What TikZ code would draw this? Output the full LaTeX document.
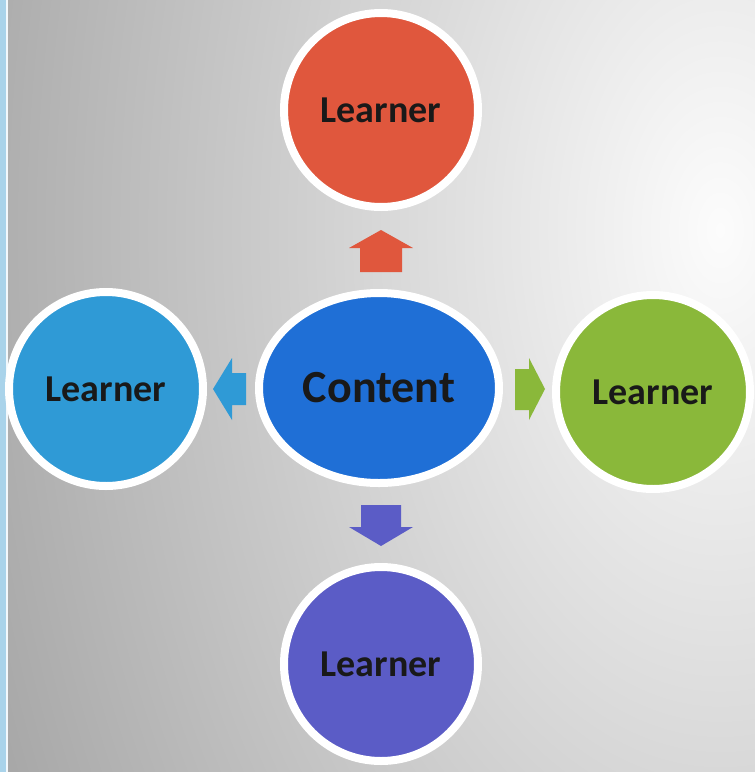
\documentclass[tikz,border=0pt]{standalone}
\usepackage{fontspec}
\setmainfont{Carlito}
\usetikzlibrary{shapes.geometric,shadows}
\definecolor{cred}{HTML}{E0573D}
\definecolor{cblueL}{HTML}{2F9AD6}
\definecolor{cblueC}{HTML}{1F6FD6}
\definecolor{cgreen}{HTML}{8AB83A}
\definecolor{cpurple}{HTML}{5B5CC6}
\definecolor{bggray}{HTML}{A6A6A6}
\definecolor{bgwhite}{HTML}{FCFCFC}
\definecolor{strip}{HTML}{A9D3EA}
\tikzset{
  learner/.style={circle, draw=white, line width=8pt, minimum size=194pt, inner sep=0pt,
    font=\fontsize{38}{40}\selectfont\bfseries, text=black!90,
    drop shadow={opacity=0.25, shadow xshift=2pt, shadow yshift=-3pt}},
  contentbox/.style={ellipse, draw=white, line width=8pt, minimum width=240pt, minimum height=190pt,
    inner sep=0pt, fill=cblueC, font=\fontsize{46}{48}\selectfont\bfseries, text=black!90,
    drop shadow={opacity=0.25, shadow xshift=2pt, shadow yshift=-3pt}}
}
\begin{document}
\begin{tikzpicture}[x=1pt,y=-1pt]
\useasboundingbox (0,0) rectangle (755,772);
% background
\begin{scope}
\clip (0,0) rectangle (755,772);
\fill[bggray] (0,0) rectangle (755,772);
\shade[inner color=bgwhite, outer color=bggray] (720,230) ellipse [x radius=800, y radius=1300];
\fill[strip] (0,0) rectangle (6,772);
\fill[white!85!strip] (6,0) rectangle (8,772);
\end{scope}
% nodes
\node[contentbox] (content) at (379,388) {Content};
\node[learner, fill=cred] (ltop) at (381,110) {Learner};
\node[learner, fill=cblueL] (lleft) at (106,389) {Learner};
\node[learner, fill=cgreen] (lright) at (653,392) {Learner};
\node[learner, fill=cpurple] (lbottom) at (381,664) {Learner};
% block arrows
\fill[cred] (360,272) -- (360,248) -- (349,248) -- (381,230) -- (413,248) -- (402,248) -- (402,272) -- cycle;
\fill[cpurple] (361,505) -- (361,527) -- (349,527) -- (381,546) -- (413,527) -- (401,527) -- (401,505) -- cycle;
\fill[cblueL] (246,373) -- (232,373) -- (232,358) -- (213,389) -- (232,420) -- (232,405) -- (246,405) -- cycle;
\fill[cgreen] (515,369) -- (529,369) -- (529,358) -- (545,389) -- (529,420) -- (529,410) -- (515,410) -- cycle;
\end{tikzpicture}
\end{document}
